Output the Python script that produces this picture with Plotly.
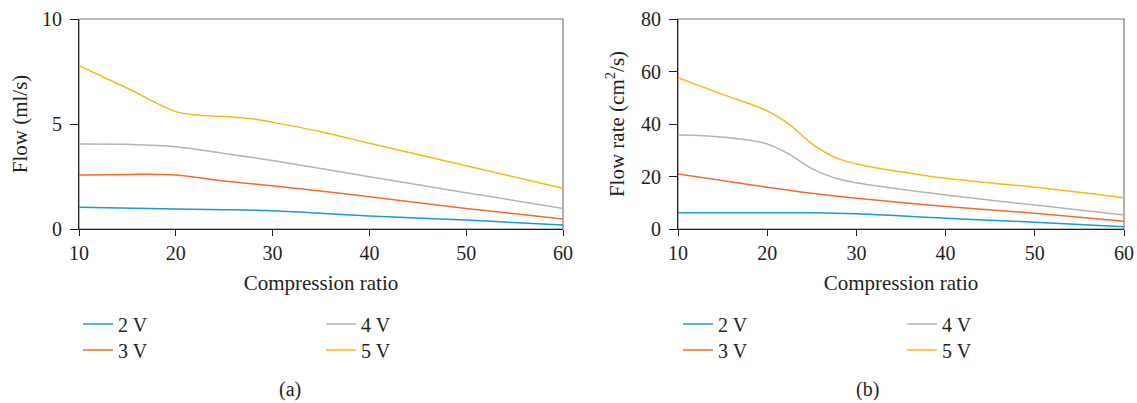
import plotly.graph_objects as go

# ---------------- data ----------------
series_names = ["2 V", "3 V", "4 V", "5 V"]
series_colors = ["#1a9bd7", "#f26b2d", "#b4b4b4", "#fdb515"]

# Panel (a): Flow (ml/s)
a_x_2v = [10, 20, 25, 30, 40, 50, 60]
a_y_2v = [1.03, 0.95, 0.92, 0.87, 0.62, 0.43, 0.19]
a_x_3v = [10, 15, 20, 25, 30, 40, 50, 60]
a_y_3v = [2.57, 2.60, 2.57, 2.28, 2.06, 1.54, 0.98, 0.48]
a_x_4v = [10, 15, 20, 25, 30, 40, 50, 60]
a_y_4v = [4.05, 4.03, 3.92, 3.60, 3.26, 2.49, 1.73, 0.98]
a_x_5v = [10, 15, 20, 22, 25, 28, 30, 35, 40, 50, 60]
a_y_5v = [7.78, 6.70, 5.59, 5.43, 5.36, 5.24, 5.08, 4.63, 4.08, 3.01, 1.94]

# Panel (b): Flow rate (cm^2/s)
b_x_2v = [10, 20, 25, 30, 40, 50, 60]
b_y_2v = [6.2, 6.2, 6.2, 5.8, 4.1, 2.6, 0.9]
b_x_3v = [10, 20, 25, 30, 40, 50, 60]
b_y_3v = [21.0, 15.9, 13.6, 11.7, 8.6, 6.0, 3.0]
b_x_4v = [10, 15, 20, 22.5, 25, 27.5, 30, 35, 40, 50, 60]
b_y_4v = [35.8, 35.0, 32.4, 28.4, 23.0, 19.5, 17.6, 15.1, 12.95, 9.1, 5.3]
b_x_5v = [10, 15, 20, 22.5, 25, 27.5, 30, 35, 40, 50, 60]
b_y_5v = [57.6, 51.3, 45.0, 39.8, 32.5, 27.4, 24.8, 21.8, 19.3, 15.9, 11.9]

x_ticks = [10, 20, 30, 40, 50, 60]
a_y_ticks = [0, 5, 10]
b_y_ticks = [0, 20, 40, 60, 80]

panel_a = [(a_x_2v, a_y_2v), (a_x_3v, a_y_3v), (a_x_4v, a_y_4v), (a_x_5v, a_y_5v)]
panel_b = [(b_x_2v, b_y_2v), (b_x_3v, b_y_3v), (b_x_4v, b_y_4v), (b_x_5v, b_y_5v)]

# ---------------- figure ----------------
W, H = 1137, 403
FONT = "Liberation Serif, Times New Roman, serif"
TXT = "#231f20"

fig = go.Figure()

# one legend per entry so the 2x2 grid matches the reference exactly
legend_ids_a = ["legend", "legend2", "legend3", "legend4"]
legend_ids_b = ["legend5", "legend6", "legend7", "legend8"]

for i, (xs, ys) in enumerate(panel_a):
    fig.add_trace(go.Scatter(
        x=xs, y=ys, mode="lines", name=series_names[i],
        line=dict(color=series_colors[i], width=1.5, shape="spline", smoothing=1.0),
        xaxis="x", yaxis="y", legend=legend_ids_a[i],
    ))
for i, (xs, ys) in enumerate(panel_b):
    fig.add_trace(go.Scatter(
        x=xs, y=ys, mode="lines", name=series_names[i],
        line=dict(color=series_colors[i], width=1.5, shape="spline", smoothing=1.0),
        xaxis="x2", yaxis="y2", legend=legend_ids_b[i],
    ))

ydom = [1 - 229 / H, 1 - 19 / H]

axis_common = dict(
    showline=True, linecolor=TXT, linewidth=1.2,
    ticks="outside", tickcolor=TXT, tickwidth=1.2,
    showgrid=False, zeroline=False,
    tickfont=dict(family=FONT, size=20, color=TXT),
    automargin=False,
)

fig.update_layout(
    width=W, height=H,
    margin=dict(l=0, r=0, t=0, b=0, autoexpand=False),
    paper_bgcolor="white", plot_bgcolor="white",
    font=dict(family=FONT, size=20, color=TXT),
    xaxis=dict(domain=[79 / W, 563 / W], range=[10, 60], tickvals=x_ticks, ticklen=6,
               title=dict(text="Compression ratio", font=dict(family=FONT, size=21, color=TXT), standoff=12),
               anchor="y", **axis_common),
    yaxis=dict(domain=ydom, range=[0, 10], tickvals=a_y_ticks, ticklen=8, ticklabelstandoff=4,
               title=dict(text="Flow (ml/s)", font=dict(family=FONT, size=21, color=TXT), standoff=8),
               anchor="x", **axis_common),
    xaxis2=dict(domain=[678 / W, 1124 / W], range=[10, 60], tickvals=x_ticks, ticklen=6,
                title=dict(text="Compression ratio", font=dict(family=FONT, size=21, color=TXT), standoff=12),
                anchor="y2", **axis_common),
    yaxis2=dict(domain=ydom, range=[0, 80], tickvals=b_y_ticks, ticklen=8, ticklabelstandoff=4,
                title=dict(text="Flow rate (cm<sup>2</sup>/s)", font=dict(family=FONT, size=21, color=TXT), standoff=10),
                anchor="x2", **axis_common),
    showlegend=True,
)

leg_common = dict(
    orientation="v", xref="paper", yref="paper", xanchor="left", yanchor="top",
    bgcolor="rgba(0,0,0,0)", borderwidth=0,
    font=dict(family=FONT, size=20, color=TXT), itemwidth=30,
)
row_tops = [304.5, 330.5]
col_lefts = [78, 321, 678, 902]
leg_pos = {
    "legend": (col_lefts[0], row_tops[0]), "legend2": (col_lefts[0], row_tops[1]),
    "legend3": (col_lefts[1], row_tops[0]), "legend4": (col_lefts[1], row_tops[1]),
    "legend5": (col_lefts[2], row_tops[0]), "legend6": (col_lefts[2], row_tops[1]),
    "legend7": (col_lefts[3], row_tops[0]), "legend8": (col_lefts[3], row_tops[1]),
}
fig.update_layout(**{k: dict(x=px / W, y=1 - py / H, **leg_common) for k, (px, py) in leg_pos.items()})

for xr, yr in [("x domain", "y domain"), ("x2 domain", "y2 domain")]:
    fig.add_shape(type="rect", xref=xr, yref=yr, x0=0, x1=1, y0=0, y1=1,
                  line=dict(color="#7a7a7a", width=1.2), layer="below")

fig.add_annotation(text="(a)", x=290 / W, y=1 - 389 / H, xref="paper", yref="paper",
                   xanchor="center", yanchor="middle",
                   showarrow=False, font=dict(family=FONT, size=20, color=TXT))
fig.add_annotation(text="(b)", x=867 / W, y=1 - 389 / H, xref="paper", yref="paper",
                   xanchor="center", yanchor="middle",
                   showarrow=False, font=dict(family=FONT, size=20, color=TXT))

fig.write_html("out.html")
